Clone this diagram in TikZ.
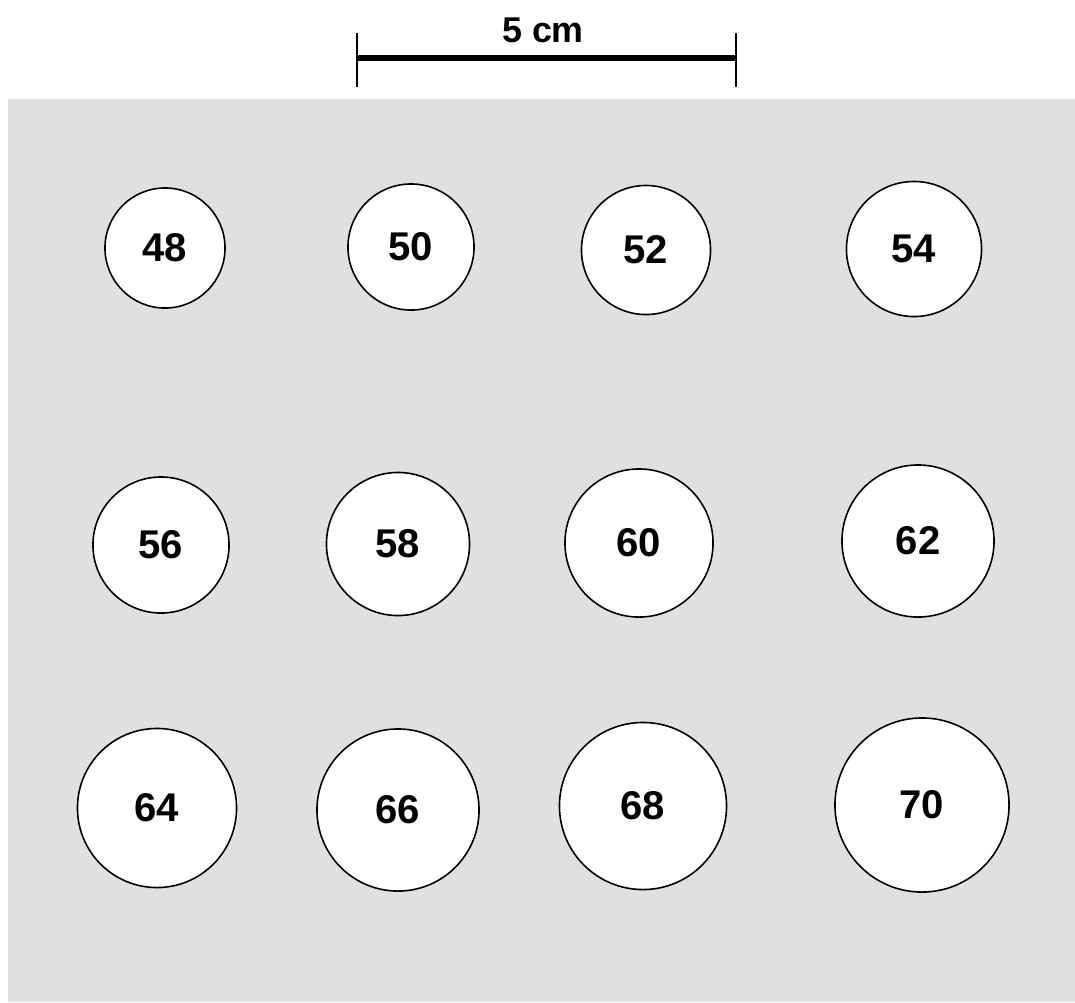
\documentclass[tikz,border=0pt]{standalone}
\usepackage{fontspec}
\setmainfont{Liberation Sans}
\definecolor{panelgray}{HTML}{E0E0E0}

\begin{document}
\begin{tikzpicture}[
	x=0.01cm, y=-0.01cm,
	disc/.style={ circle, draw, line width=0.45pt, fill=white, inner sep=0pt, font=\bfseries\fontsize{11.4}{13}\selectfont },
	barlabel/.style={ inner sep=0pt, font=\bfseries\fontsize{10.2}{12}\selectfont }
]

\useasboundingbox (0,0) rectangle (1075,1002);
\fill[panelgray] (8,99) rectangle (1075,1002);

% scale bar
\coordinate (sL) at (357,58);
\coordinate (sR) at (736,58);
\draw[line width=1.8pt] (sL) -- (sR);
\draw[line width=0.6pt] ([yshift=0.25cm]sL) -- ([yshift=-0.29cm]sL);
\draw[line width=0.6pt] ([yshift=0.25cm]sR) -- ([yshift=-0.29cm]sR);
\node[barlabel] at (543,30) (lbl) {5 cm};

% first row
\node[disc, minimum size=1.20cm] at (165,248) (d48) {48};
\node[disc, minimum size=1.26cm] at (411,247) (d50) {50};
\node[disc, minimum size=1.29cm] at (646,250) (d52) {52};
\node[disc, minimum size=1.35cm] at (914,249) (d54) {54};

% second row
\node[disc, minimum size=1.36cm] at (161,545) (d56) {56};
\node[disc, minimum size=1.43cm] at (398,544) (d58) {58};
\node[disc, minimum size=1.48cm] at (639,543) (d60) {60};
\node[disc, minimum size=1.52cm] at (918,541) (d62) {62};

% third row
\node[disc, minimum size=1.59cm] at (157,808) (d64) {64};
\node[disc, minimum size=1.62cm] at (398,810) (d66) {66};
\node[disc, minimum size=1.67cm] at (643,806) (d68) {68};
\node[disc, minimum size=1.74cm] at (922,805) (d70) {70};

\end{tikzpicture}
\end{document}
